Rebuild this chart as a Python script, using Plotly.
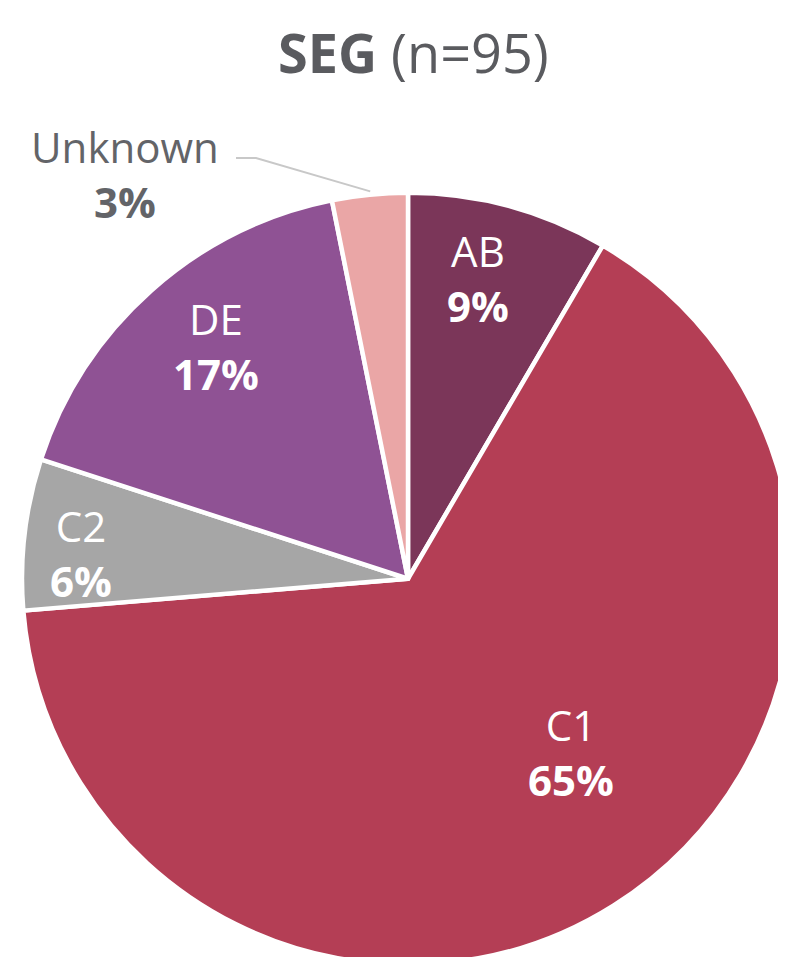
import math
import plotly.graph_objects as go

W, H = 786, 957

labels = ["AB", "C1", "C2", "DE", "Unknown"]
counts = [8, 62, 6, 16, 3]
pct_labels = ["9%", "65%", "6%", "17%", "3%"]
colors = ["#7B3659", "#B43E55", "#A6A6A6", "#8F5294", "#EAA6A6"]

# label anchor positions in pixels (from top-left)
label_pos = {
    "AB": (470, 270),
    "C1": (563, 744),
    "C2": (73, 545),
    "DE": (208, 338),
    "Unknown": (117, 166),
}

cx, cy, r = 400.5, 571, 386.5
FONT = "Open Sans"

fig = go.Figure()
fig.add_trace(go.Pie(
    labels=labels, values=counts, sort=False, direction="clockwise", rotation=0,
    marker=dict(colors=colors, line=dict(color="white", width=4.5)),
    textinfo="none", hoverinfo="label+percent", showlegend=False,
    domain=dict(x=[(cx - r) / W, 1], y=[0, 1 - (cy - r) / H]),
))

for lab, pct in zip(labels, pct_labels):
    px_, py_ = label_pos[lab]
    inside = lab != "Unknown"
    fig.add_annotation(
        x=px_ / W, y=1 - py_ / H, xref="paper", yref="paper",
        xanchor="center", yanchor="middle",
        text=f"{lab}<br><b>{pct}</b>", showarrow=False, align="center",
        font=dict(family=FONT, size=42, color="white" if inside else "#636468"),
    )

# leader line for the small Unknown slice, ending at its mid-angle on the rim
total = sum(counts)
mid = (sum(counts[:4]) + counts[4] / 2) / total * 2 * math.pi
ex, ey = cx + r * math.sin(mid), cy - r * math.cos(mid)
fig.add_shape(
    type="path", xref="paper", yref="paper",
    path=f"M {228 / W},{1 - 150 / H} L {248 / W},{1 - 150 / H} L {ex / W},{1 - (ey - 3) / H}",
    line=dict(color="#C8C8C8", width=2),
)

fig.add_annotation(
    x=405 / W, y=1 - 44 / H, xref="paper", yref="paper", showarrow=False,
    xanchor="center", yanchor="middle",
    text="<b>SEG</b> (n=95)",
    font=dict(family=FONT, size=54, color="#5A5B5F"),
)

fig.update_layout(
    width=W, height=H, margin=dict(t=0, b=0, l=0, r=0),
    paper_bgcolor="white", plot_bgcolor="white",
)
fig.write_html("out.html")
